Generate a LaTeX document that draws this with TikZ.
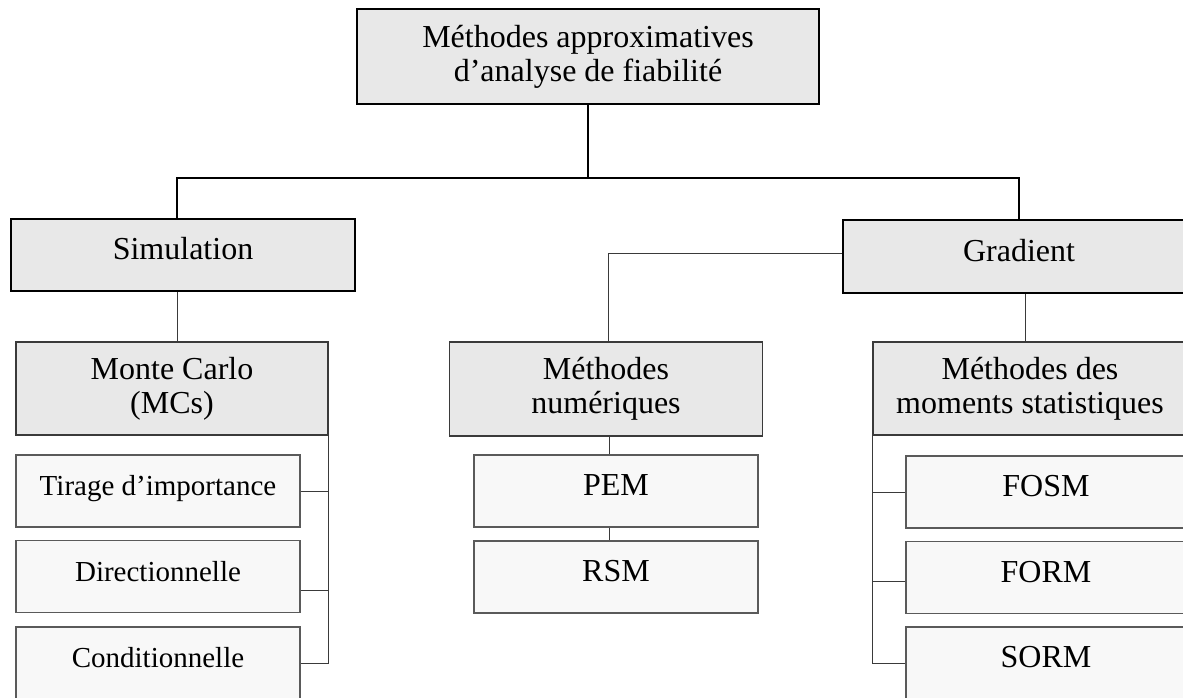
\documentclass[tikz,border=0pt]{standalone}
\usepackage{fontspec}
\setmainfont{Liberation Serif}
\usetikzlibrary{calc}
\definecolor{headfill}{HTML}{E8E8E8}
\definecolor{leaffill}{HTML}{F8F8F8}
\definecolor{linegray}{HTML}{3A3A3A}
\definecolor{leafedge}{HTML}{5A5A5A}
\tikzset{
	headbox/.style={draw=black, line width=1.6pt, fill=headfill, inner sep=0pt, align=center, font=\fontsize{32}{34}\selectfont},
	groupbox/.style={draw=linegray, line width=1.1pt, fill=headfill, inner sep=0pt, align=center, font=\fontsize{32}{34}\selectfont},
	oneline/.style={text height=23pt, text depth=14pt},
	leafbox/.style={draw=leafedge, line width=1.2pt, fill=leaffill, inner sep=0pt, minimum height=72pt, oneline, font=\fontsize{32}{34}\selectfont},
	smallleaf/.style={leafbox, font=\fontsize{29}{34}\selectfont},
	trunk/.style={line width=1.3pt, black},
	branch/.style={line width=0.9pt, linegray}
}

\begin{document}
\begin{tikzpicture}[x=1pt, y=-1pt]
	% page 1183 x 697
	\useasboundingbox (0,0) rectangle (1183,697);
	\clip (0,0) rectangle (1183,697);
	
	% upper levels
	\node[headbox, minimum width=462pt, minimum height=95pt] (root) at (588,56.5) {Méthodes approximatives\\d’analyse de fiabilité};
	\node[headbox, oneline, minimum width=344pt, minimum height=72pt] (sim) at (183,255) {Simulation};
	\node[headbox, oneline, minimum width=352pt, minimum height=73pt] (grad) at (1019,256.5) {Gradient};
	
	\node[groupbox, minimum width=312pt, minimum height=93pt] (mc) at (172,388.5) {Monte Carlo\\(MCs)};
	\node[groupbox, minimum width=313pt, minimum height=94pt] (num) at (606,389) {Méthodes\\numériques};
	\node[groupbox, minimum width=314pt, minimum height=93pt] (mom) at (1030,388.5) {Méthodes des\\moments statistiques};
	
	% leaves
	\node[smallleaf, minimum width=284pt] (tir) at (158,491) {Tirage d’importance};
	\node[smallleaf, minimum width=284pt] (dir) at (158,576.5) {Directionnelle};
	\node[smallleaf, minimum width=284pt] (cond) at (158,663) {Conditionnelle};
	
	\node[leafbox, minimum width=284pt] (pem) at (616,491) {PEM};
	\node[leafbox, minimum width=284pt] (rsm) at (616,577) {RSM};
	
	\node[leafbox, minimum width=280pt] (fosm) at (1046,492) {FOSM};
	\node[leafbox, minimum width=280pt] (form) at (1046,577.5) {FORM};
	\node[leafbox, minimum width=280pt] (sorm) at (1046,663) {SORM};
	
	% trunk
	\coordinate (split) at (588,178);
	\draw[trunk] (root.south) -- (split);
	\draw[trunk] ([xshift=-6pt]sim.north) |- (split) -| (grad.north);
	
	% branches
	\draw[branch] ([xshift=-6pt]sim.south) -- ([xshift=-6pt]sim.south |- mc.north);
	\draw[branch] ([yshift=3pt]grad.west) -| ([xshift=2pt]num.north);
	\draw[branch] ([xshift=6pt]grad.south) -- ([xshift=6pt]grad.south |- mom.north);
	\draw[branch] ([xshift=3pt]num.south) -- ([xshift=3pt]num.south |- pem.north);
	\draw[branch] ([xshift=3pt]num.south |- pem.south) -- ([xshift=3pt]num.south |- rsm.north);
	
	% bracket Monte Carlo
	\draw[branch] (mc.south east) |- (cond.east);
	\draw[branch] (tir.east) -- (tir.east -| mc.south east);
	\draw[branch] ([yshift=-13.5pt]dir.east) -- ([yshift=-13.5pt]dir.east -| mc.south east);
	
	% bracket moments
	\draw[branch] (mom.south west) |- (sorm.west);
	\draw[branch] (fosm.west) -- (fosm.west -| mom.south west);
	\draw[branch] ([yshift=-3.5pt]form.west) -- ([yshift=-3.5pt]form.west -| mom.south west);
\end{tikzpicture}
\end{document}
